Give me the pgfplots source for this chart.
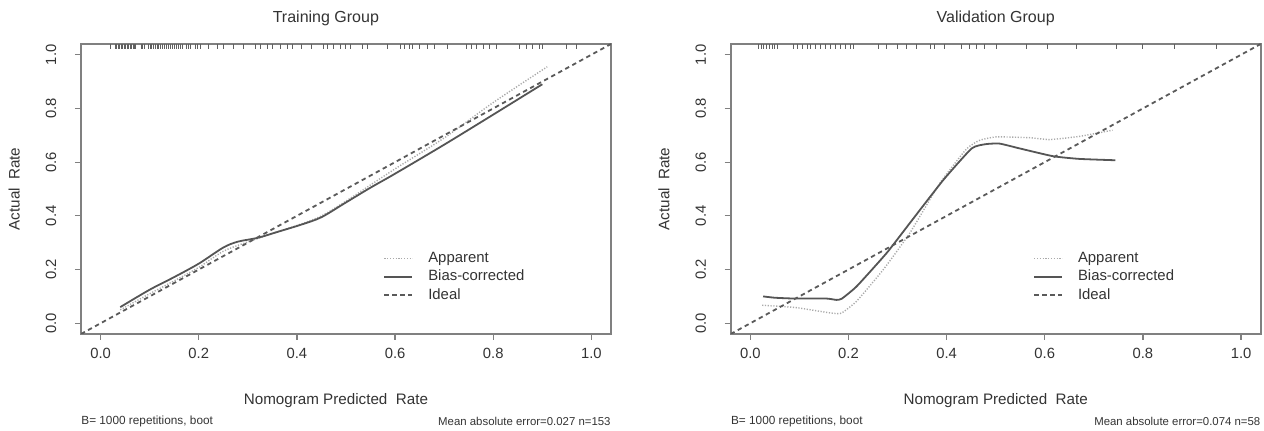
\documentclass[border=0pt]{standalone}
\usepackage{pgfplots}
\pgfplotsset{compat=1.18}
\usepackage{fontspec}
\setmainfont{Liberation Sans}
\definecolor{axgray}{HTML}{808080}
\definecolor{txt}{HTML}{333333}
\definecolor{bias}{HTML}{555555}
\definecolor{app}{HTML}{AAAAAA}
\definecolor{ideal}{HTML}{5A5A5A}
\definecolor{rug}{HTML}{606060}

\pgfplotsset{calib/.style={
  scale only axis, width=265pt, height=145pt,
  anchor=south west,
  xmin=-0.04,xmax=1.04,ymin=-0.04,ymax=1.04,
  axis line style={axgray, line width=0.9pt},
  xtick={0,0.2,0.4,0.6,0.8,1}, ytick={0,0.2,0.4,0.6,0.8,1},
  xticklabels={0.0,0.2,0.4,0.6,0.8,1.0}, yticklabels={0.0,0.2,0.4,0.6,0.8,1.0},
  xtick pos=bottom, ytick pos=left, tick align=outside,
  major tick length=3pt, tick style={axgray, line width=0.6pt},
  ticklabel style={font=\fontsize{7.4}{8}\selectfont, text=txt},
  xticklabel style={anchor=center, yshift=-6.5pt},
  yticklabel style={rotate=90, anchor=center, yshift=12pt},
  title style={at={(axis description cs:0.5,1.048)}, anchor=center, font=\fontsize{8}{9}\selectfont, text=txt},
  xlabel style={at={(axis description cs:0.5,-0.228)}, anchor=center, font=\fontsize{7.6}{9}\selectfont, text=txt},
  ylabel style={at={(axis description cs:-0.126,0.5)}, anchor=center, rotate=0, font=\fontsize{7.6}{9}\selectfont, text=txt},
  xlabel={Nomogram Predicted~~Rate}, ylabel={Actual~~Rate},
  legend cell align=left,
  legend image code/.code={\draw[##1] (0pt,0pt) -- (14pt,0pt);},
  legend style={at={(axis description cs:0.570,0.197)}, anchor=west, draw=none, fill=none,
    inner sep=0pt, font=\fontsize{7.45}{8}\selectfont, text=txt,
    column sep=7.5pt, row sep=0pt,
    nodes={inner sep=0pt, text height=6.5pt, text depth=2.75pt}},
  clip mode=individual,
}}

\begin{document}
\begin{tikzpicture}
\useasboundingbox (0pt,0pt) rectangle (632pt,215.5pt);

% ---------------- Training ----------------
\begin{axis}[calib, at={(40.5pt,48.5pt)}, title={Training Group},
  title style={at={(axis description cs:0.462,1.048)}},
  xlabel style={at={(axis description cs:0.481,-0.228)}}]
\addplot[app, line width=0.7pt, dash pattern=on 0.6pt off 0.8pt, smooth, tension=0.5] coordinates {
(0.04,0.050) (0.10,0.110) (0.15,0.158) (0.20,0.208) (0.25,0.268) (0.30,0.303) (0.35,0.334) (0.40,0.364) (0.45,0.400) (0.50,0.455) (0.60,0.575) (0.70,0.690) (0.80,0.822) (0.91,0.955)};
\addlegendentry{Apparent}
\addplot[bias, line width=0.9pt, smooth, tension=0.5] coordinates {
(0.04,0.060) (0.10,0.125) (0.15,0.172) (0.20,0.222) (0.25,0.282) (0.28,0.304) (0.32,0.318) (0.36,0.340) (0.41,0.368) (0.45,0.395) (0.50,0.450) (0.55,0.505) (0.60,0.557) (0.70,0.665) (0.80,0.777) (0.90,0.890)};
\addlegendentry{Bias-corrected}
\addplot[ideal, line width=0.9pt, dash pattern=on 2.2pt off 1.8pt] coordinates {(-0.04,-0.04) (1.04,1.04)};
\addlegendentry{Ideal}
\addplot[only marks, mark=|, mark size=1.3pt, mark options={rug, line width=0.4pt}, forget plot] coordinates {
(0.019,1.03)(0.030,1.03)(0.033,1.03)(0.036,1.03)(0.039,1.03)(0.042,1.03)(0.045,1.03)(0.048,1.03)(0.051,1.03)(0.054,1.03)(0.057,1.03)(0.060,1.03)(0.063,1.03)(0.066,1.03)(0.069,1.03)(0.071,1.03)(0.083,1.03)(0.086,1.03)(0.089,1.03)(0.098,1.03)(0.101,1.03)(0.104,1.03)(0.108,1.03)(0.111,1.03)(0.115,1.03)(0.118,1.03)(0.122,1.03)(0.126,1.03)(0.130,1.03)(0.134,1.03)(0.138,1.03)(0.142,1.03)(0.146,1.03)(0.150,1.03)(0.154,1.03)(0.158,1.03)(0.162,1.03)(0.166,1.03)(0.175,1.03)(0.179,1.03)(0.183,1.03)(0.193,1.03)(0.198,1.03)(0.203,1.03)
(0.220,1.03)(0.238,1.03)(0.250,1.03)(0.270,1.03)(0.290,1.03)(0.315,1.03)(0.325,1.03)(0.340,1.03)(0.350,1.03)(0.366,1.03)(0.380,1.03)(0.390,1.03)(0.410,1.03)(0.430,1.03)(0.453,1.03)(0.463,1.03)(0.474,1.03)(0.488,1.03)(0.498,1.03)(0.508,1.03)(0.533,1.03)(0.543,1.03)(0.585,1.03)(0.610,1.03)(0.620,1.03)(0.630,1.03)(0.636,1.03)(0.650,1.03)(0.665,1.03)(0.681,1.03)(0.707,1.03)(0.746,1.03)(0.756,1.03)(0.766,1.03)(0.779,1.03)(0.793,1.03)(0.807,1.03)(0.854,1.03)(0.868,1.03)(0.880,1.03)(0.894,1.03)(0.900,1.03)(0.949,1.03)(0.970,1.03)};
\node[anchor=west, inner sep=0pt, font=\fontsize{5.9}{7}\selectfont, text=txt] at (axis description cs:0,-0.303) {B= 1000 repetitions, boot};
\node[anchor=east, inner sep=0pt, font=\fontsize{5.7}{7}\selectfont, text=txt] at (axis description cs:1,-0.303) {Mean absolute error=0.027 n=153};
\end{axis}

% ---------------- Validation ----------------
\begin{axis}[calib, at={(365.35pt,48.5pt)}, title={Validation Group}]
\addplot[app, line width=0.7pt, dash pattern=on 0.6pt off 0.8pt, smooth, tension=0.3] coordinates {
(0.024,0.067) (0.060,0.063) (0.095,0.058) (0.140,0.045) (0.169,0.037) (0.186,0.038) (0.217,0.083) (0.271,0.200) (0.325,0.336) (0.386,0.521) (0.440,0.648) (0.467,0.681) (0.501,0.694) (0.569,0.691) (0.610,0.684) (0.671,0.696) (0.738,0.719)};
\addlegendentry{Apparent}
\addplot[bias, line width=0.9pt, smooth, tension=0.3] coordinates {
(0.026,0.100) (0.050,0.095) (0.090,0.092) (0.155,0.092) (0.175,0.087) (0.186,0.091) (0.217,0.138) (0.278,0.262) (0.325,0.373) (0.393,0.533) (0.451,0.651) (0.480,0.667) (0.508,0.669) (0.549,0.651) (0.617,0.622) (0.671,0.612) (0.744,0.607)};
\addlegendentry{Bias-corrected}
\addplot[ideal, line width=0.9pt, dash pattern=on 2.2pt off 1.8pt] coordinates {(-0.04,-0.04) (1.04,1.04)};
\addlegendentry{Ideal}
\addplot[only marks, mark=|, mark size=1.3pt, mark options={rug, line width=0.4pt}, forget plot] coordinates {
(0.016,1.03)(0.022,1.03)(0.027,1.03)(0.032,1.03)(0.038,1.03)(0.044,1.03)(0.050,1.03)(0.055,1.03)(0.087,1.03)(0.095,1.03)(0.106,1.03)(0.116,1.03)(0.122,1.03)(0.132,1.03)(0.142,1.03)(0.152,1.03)(0.163,1.03)(0.173,1.03)(0.183,1.03)(0.193,1.03)(0.203,1.03)(0.211,1.03)(0.260,1.03)(0.278,1.03)(0.300,1.03)(0.319,1.03)(0.339,1.03)(0.366,1.03)(0.376,1.03)(0.396,1.03)(0.431,1.03)(0.447,1.03)(0.461,1.03)(0.476,1.03)(0.502,1.03)(0.563,1.03)(0.606,1.03)(0.665,1.03)(0.746,1.03)(0.799,1.03)(0.864,1.03)(0.949,1.03)};
\node[anchor=west, inner sep=0pt, font=\fontsize{5.9}{7}\selectfont, text=txt] at (axis description cs:0,-0.303) {B= 1000 repetitions, boot};
\node[anchor=east, inner sep=0pt, font=\fontsize{5.7}{7}\selectfont, text=txt] at (axis description cs:1,-0.303) {Mean absolute error=0.074 n=58};
\end{axis}
\end{tikzpicture}
\end{document}
